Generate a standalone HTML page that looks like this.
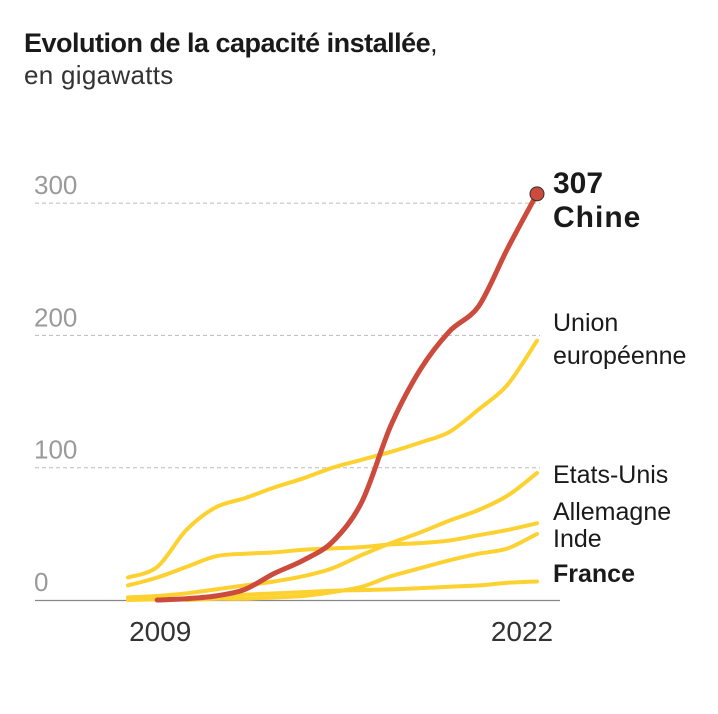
<!DOCTYPE html>
<html><head><meta charset="utf-8"><style>
body{margin:0;background:#fff;}
svg{display:block;font-family:"Liberation Sans",sans-serif;}
</style></head><body>
<svg id="chart" width="718" height="714" viewBox="0 0 718 714">
<text x="24" y="52" font-size="27" font-weight="bold" fill="#1a1a1a" letter-spacing="-0.5">Evolution de la capacité installée<tspan font-weight="normal">,</tspan></text>
<text x="24" y="84" font-size="26" fill="#333" letter-spacing="0.3">en gigawatts</text>
<g id="grid"></g>
<g id="lines"></g>
<g id="labels"></g>
</svg>
<script>
const years=[2008,2009,2010,2011,2012,2013,2014,2015,2016,2017,2018,2019,2020,2021,2022];
const yTicks=[0,100,200,300];
const xTickLabels=[2009,2022];
const euValues=[17,25,53,70,77,85,92,100,106,112,119,127,144,163,196];
const germanyValues=[11,17,25,33,35,36,38,39,40,42,43,45,49,53,58];
const usValues=[2,3,5,8,11,14,18,24,34,43,51,60,68,79,96];
const indiaValues=[null,null,0,1,1,2,3,6,10,18,24,30,35,39,50];
const franceValues=[0,0.5,1,3,4,5,6,7,7.5,8,9,10,11,13,14];
const chinaValues=[null,0,1,3,8,20,30,44,74,132,174,203,222,266,307];
const ns="http://www.w3.org/2000/svg";
const xS=y=>128+(y-2008)*(409/14);
const yS=v=>600-v*1.323;
const grid=document.getElementById('grid'),linesG=document.getElementById('lines'),labels=document.getElementById('labels');
function mk(tag,attrs,parent){const e=document.createElementNS(ns,tag);for(const k in attrs)e.setAttribute(k,attrs[k]);parent.appendChild(e);return e;}
yTicks.forEach(t=>{
  if(t>0){const l=mk('line',{x1:35,x2:540,y1:yS(t),y2:yS(t),stroke:'#bbb','stroke-width':1,'stroke-dasharray':'4 3'},grid);
  
  }
  const tx=mk('text',{x:34,y:yS(t)-9,'font-size':26,fill:'#9a9a9a'},grid);tx.textContent=t;
  
  
});
const base=mk('line',{x1:35,x2:560,y1:600.5,y2:600.5,stroke:'#888','stroke-width':1.2},grid);


xTickLabels.forEach(y=>{const tx=mk('text',{x:xS(y)+(y===2022?-15:3),y:641,'font-size':28,fill:'#333','text-anchor':'middle'},grid);tx.textContent=y;
  
  });
function path(vals,color,w,name){
  const pts=[];vals.forEach((v,i)=>{if(v===null)return;pts.push([xS(years[i]),yS(v)]);});
  let d='M'+pts[0][0].toFixed(1)+','+pts[0][1].toFixed(1);
  for(let i=0;i<pts.length-1;i++){
    const p0=pts[Math.max(0,i-1)],p1=pts[i],p2=pts[i+1],p3=pts[Math.min(pts.length-1,i+2)];
    const t=0.16;
    const c1=[p1[0]+(p2[0]-p0[0])*t,p1[1]+(p2[1]-p0[1])*t];
    const c2=[p2[0]-(p3[0]-p1[0])*t,p2[1]-(p3[1]-p1[1])*t];
    d+='C'+c1.map(n=>n.toFixed(1)).join(',')+' '+c2.map(n=>n.toFixed(1)).join(',')+' '+p2[0].toFixed(1)+','+p2[1].toFixed(1);
  }
  const p=mk('path',{d:d,fill:'none',stroke:color,'stroke-width':w,'stroke-linejoin':'round','stroke-linecap':'round'},linesG);
  
  
}
const Y='#fdd130';
path(franceValues,Y,4,'line-france');
path(indiaValues,Y,4,'line-inde');
path(usValues,Y,4,'line-etats-unis');
path(germanyValues,Y,4,'line-allemagne');
path(euValues,Y,4,'line-union-europeenne');
path(chinaValues,'#cc4b3c',5,'line-chine');
const dot=mk('circle',{cx:xS(2022),cy:yS(chinaValues[14]),r:7,fill:'#cc4b3c',stroke:'#333','stroke-width':1},linesG);


const labs=[["307",193,true,30,'label-chine-value'],["Chine",227,true,30,'label-chine'],["Union",331,false,25,'label-ue-1'],["européenne",364,false,25,'label-ue-2'],["Etats-Unis",483,false,25,'label-etats-unis'],["Allemagne",520,false,25,'label-allemagne'],["Inde",547,false,25,'label-inde'],["France",582,true,25,'label-france']];
labs.forEach(l=>{const tx=mk('text',{x:553,y:l[1],'font-size':l[3],'font-weight':l[2]?'bold':'normal',fill:'#1a1a1a'},labels);tx.textContent=l[0];
  if(l[0]==='Chine')tx.setAttribute('letter-spacing','1');
  
  });
</script>
</body></html>
